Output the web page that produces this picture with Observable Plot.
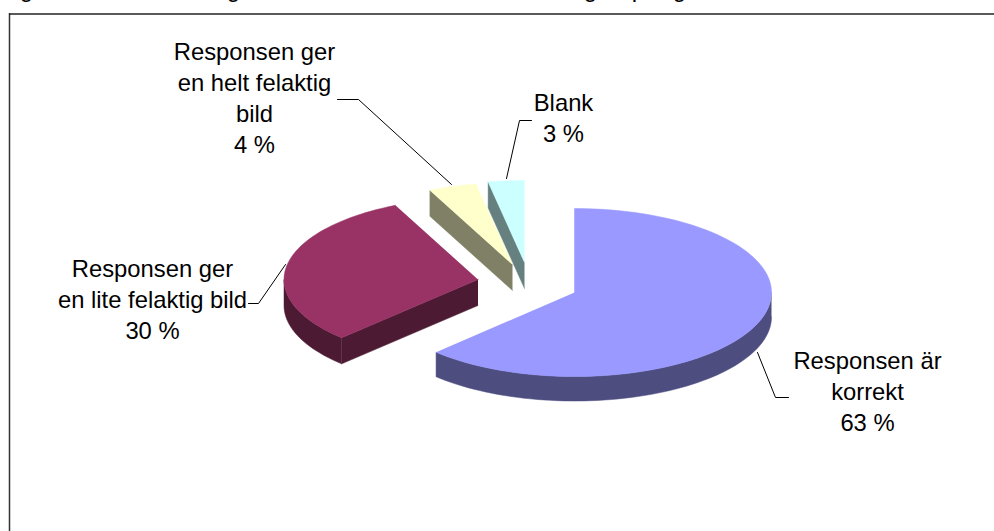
<!DOCTYPE html>
<html>
<head>
<meta charset="utf-8">
<script src="https://cdn.jsdelivr.net/npm/d3@7"></script>
<script src="https://cdn.jsdelivr.net/npm/@observablehq/plot@0.6"></script>
<style>html,body{margin:0;padding:0;background:#fff}svg{display:block}</style>
</head>
<body>
<div id="chart"></div>
<script>
const categories = ["Responsen är\nkorrekt", "Responsen ger\nen lite felaktig bild", "Responsen ger\nen helt felaktig\nbild", "Blank"];
const shares = [62.4, 30.6, 4, 3];
const shareLabels = ["63 %", "30 %", "4 %", "3 %"];
const topColors = ["#9999ff", "#993366", "#ffffcc", "#ccffff"];
const sideColors = ["#4d4d80", "#4d1a33", "#808066", "#668080"];

// layout
const W = 994, H = 531;
const radiusX = [197, 194, 194, 194];
const radiusY = [84, 82, 82, 82];
const depths = [24.5, 26, 26, 26];
const apexX = [574, 477.5, 512, 524];
const apexY = [292, 279, 264, 262];
const labelX = [867, 152, 254, 563];
const labelY = [390, 298, 96, 116];
const leaderX = [[788, 775, 757], [248, 258, 285], [337, 358, 451], [531, 519, 506]];
const leaderY = [[397, 397, 352], [303, 303, 264], [99, 99, 184], [120, 120, 178]];
const clippedHeading = ["g", "g", "g", "p", "g"];
const clippedX = [26, 233, 590, 638, 679];

const rad = (d) => d * Math.PI / 180;
const rimAt = (i, a, dz = 0) => ({
  x: apexX[i] + radiusX[i] * Math.sin(rad(a)),
  y: apexY[i] - radiusY[i] * Math.cos(rad(a)) + dz
});
const arc = (i, a0, a1, dz = 0) => {
  const n = Math.max(2, Math.ceil(Math.abs(a1 - a0) / 2));
  return d3.range(n + 1).map((k) => rimAt(i, a0 + (a1 - a0) * k / n, dz));
};

const total = d3.sum(shares);
let running = 0;
const slices = shares.map((v, i) => {
  const a0 = running / total * 360;
  running += v;
  return {i, a0, a1: running / total * 360};
});

const polygon = (points, fill) => Plot.line(points, {
  x: "x", y: "y", fill, stroke: fill, strokeWidth: 0.5, curve: "linear"
});

const marks = [];
// frame
marks.push(Plot.ruleX([9], {y1: 13, y2: H, stroke: "#333", strokeWidth: 1.5}));
marks.push(Plot.ruleY([13.5], {x1: 9, x2: W, stroke: "#222", strokeWidth: 1.5}));

// heading remnants cut by the top edge of the picture
marks.push(Plot.text(clippedHeading, {
  x: (d, i) => clippedX[i], y: () => -3.5, text: (d) => d,
  fontSize: 24, fill: "#000", lineAnchor: "bottom", textAnchor: "middle"
}));

slices.forEach(({i, a0, a1}) => {
  const depth = depths[i];
  // outer wall (front half of the rim)
  const w0 = Math.max(a0, 90), w1 = Math.min(a1, 270);
  if (w1 > w0) {
    marks.push(polygon([...arc(i, w0, w1), ...arc(i, w1, w0, depth)], sideColors[i]));
  }
  // radial cut face that faces the viewer
  if (a0 >= 180) {
    const o = {x: apexX[i], y: apexY[i]};
    const p = rimAt(i, a0);
    marks.push(polygon([o, p, {x: p.x, y: p.y + depth}, {x: o.x, y: o.y + depth}], sideColors[i]));
  }
  // top face
  marks.push(polygon([{x: apexX[i], y: apexY[i]}, ...arc(i, a0, a1)], topColors[i]));
});

// leader lines and labels
leaderX.forEach((xs, i) => {
  marks.push(Plot.line(xs.map((x, k) => ({x, y: leaderY[i][k]})), {
    x: "x", y: "y", stroke: "#000", strokeWidth: 1, curve: "linear"
  }));
});
marks.push(Plot.text(categories.map((c, i) => `${c}\n${shareLabels[i]}`), {
  x: (d, i) => labelX[i], y: (d, i) => labelY[i], text: (d) => d,
  fontSize: 23.8, lineHeight: 31 / 23.8, fill: "#000", textAnchor: "middle", lineAnchor: "middle"
}));

const chart = Plot.plot({
  width: W, height: H,
  margin: 0,
  style: {fontFamily: "'Liberation Sans', Arial, sans-serif", background: "#fff"},
  x: {domain: [0, W], range: [0, W], axis: null},
  y: {domain: [0, H], range: [0, H], axis: null},
  marks
});
document.getElementById("chart").appendChild(chart);
</script>
</body>
</html>
